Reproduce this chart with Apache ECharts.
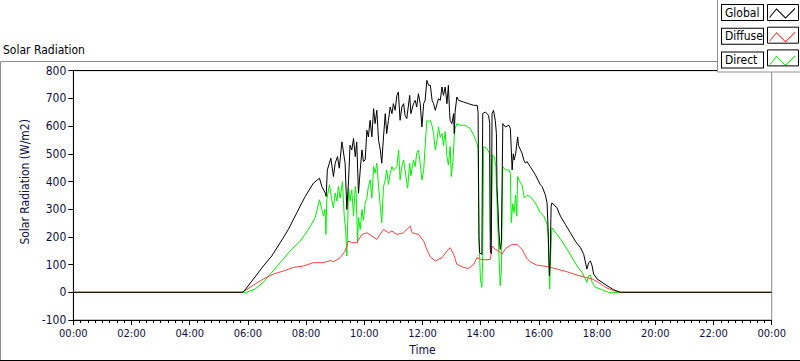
<!DOCTYPE html>
<html>
<head>
<meta charset="utf-8">
<script src="https://cdn.jsdelivr.net/npm/echarts@6/dist/echarts.min.js"></script>
<style>html,body{margin:0;padding:0;background:#fff}#c{width:800px;height:361px}</style>
</head>
<body>
<div id="c"></div>
<script>
// ---- Data (time in decimal hours, values in W/m2) ----
var seriesNames = ['Global', 'Diffuse', 'Direct'];
var xTickHours = [0, 2, 4, 6, 8, 10, 12, 14, 16, 18, 20, 22, 24];

var globalTime = [0,5.80,5.86,6.19,6.53,6.82,7.11,7.39,7.68,7.97,8.25,8.46,8.54,8.66,8.69,8.73,8.80,8.85,8.94,9.00,9.08,9.14,9.23,9.25,9.34,9.40,9.46,9.51,9.57,9.63,9.69,9.74,9.80,9.86,9.92,9.97,10.03,10.09,10.14,10.20,10.26,10.32,10.37,10.43,10.49,10.55,10.60,10.66,10.72,10.77,10.83,10.89,10.95,11.00,11.06,11.12,11.17,11.23,11.29,11.35,11.40,11.46,11.56,11.60,11.69,11.75,11.80,11.86,11.92,11.98,12.04,12.09,12.15,12.21,12.27,12.33,12.38,12.44,12.50,12.55,12.61,12.67,12.72,12.78,12.84,12.89,12.93,12.95,13.01,13.07,13.09,13.12,13.18,13.24,13.41,13.58,13.76,13.88,13.91,13.94,13.96,14.04,14.07,14.16,14.27,14.31,14.33,14.36,14.39,14.44,14.50,14.54,14.56,14.60,14.62,14.67,14.71,14.76,14.85,14.97,15.02,15.08,15.12,15.15,15.20,15.27,15.30,15.37,15.42,15.48,15.54,15.59,15.70,15.88,16.05,16.11,16.22,16.28,16.32,16.34,16.36,16.39,16.42,16.45,16.62,16.74,16.91,17.08,17.25,17.43,17.54,17.65,17.71,17.77,17.83,17.88,18.00,18.17,18.34,18.57,18.80,24];
var globalValues = [0,0,3,48,95,131,179,227,287,346,394,412,382,358,346,442,466,484,418,466,490,448,543,530,466,299,406,531,514,555,490,543,358,442,514,472,478,585,561,621,561,663,609,657,549,514,466,561,645,573,621,669,645,681,657,711,723,621,669,681,639,627,711,645,681,693,669,717,681,597,681,693,765,747,747,693,681,657,681,699,693,741,711,741,681,747,650,621,609,645,573,650,705,693,687,681,675,675,650,203,143,137,645,651,639,609,155,140,645,657,621,573,382,290,227,155,180,609,597,603,591,442,500,478,500,561,530,514,502,478,466,472,454,424,388,382,352,323,220,131,60,131,310,323,305,275,245,215,185,161,137,84,107,113,95,66,48,36,24,9,0,0];

var diffuseTime = [0,5.80,5.90,6.25,6.53,6.88,7.22,7.57,7.91,8.25,8.60,8.83,8.94,9.17,9.34,9.46,9.57,9.74,9.92,10.09,10.26,10.43,10.66,10.83,10.95,11.12,11.35,11.58,11.64,11.86,12.04,12.15,12.27,12.44,12.67,12.84,12.95,13.07,13.18,13.41,13.58,13.76,13.87,13.99,14.16,14.33,14.39,14.50,14.62,14.73,14.85,15.08,15.25,15.42,15.59,15.70,15.93,16.28,16.39,16.62,16.97,17.31,17.60,17.83,18.05,18.28,18.57,18.80,24];
var diffuseValues = [0,0,6,30,48,66,77,90,95,107,107,115,110,125,149,185,179,179,209,215,203,191,227,215,221,209,215,239,215,209,185,155,128,113,125,149,161,137,101,90,86,101,125,119,117,119,167,155,149,137,158,173,173,155,122,110,98,93,90,84,74,62,54,48,36,18,6,0,0];

var directTime = [0,5.96,6.25,6.53,6.82,7.11,7.45,7.80,8.08,8.31,8.46,8.54,8.60,8.65,8.68,8.71,8.80,8.83,8.88,8.94,9.00,9.06,9.11,9.17,9.25,9.31,9.36,9.40,9.43,9.46,9.51,9.57,9.63,9.69,9.72,9.77,9.80,9.86,9.92,9.97,10.03,10.09,10.14,10.20,10.26,10.32,10.37,10.43,10.49,10.55,10.60,10.66,10.72,10.77,10.83,10.89,10.95,11.00,11.12,11.18,11.23,11.29,11.35,11.40,11.49,11.56,11.60,11.69,11.75,11.80,11.86,11.92,11.98,12.04,12.09,12.15,12.21,12.27,12.33,12.38,12.44,12.50,12.55,12.61,12.67,12.72,12.78,12.84,12.89,12.95,12.99,13.05,13.09,13.12,13.18,13.30,13.47,13.64,13.76,13.87,13.91,13.94,13.99,14.04,14.07,14.10,14.21,14.30,14.33,14.36,14.40,14.47,14.52,14.56,14.62,14.67,14.71,14.76,14.85,14.97,15.02,15.05,15.10,15.15,15.20,15.24,15.27,15.34,15.42,15.50,15.59,15.70,15.88,16.05,16.17,16.28,16.32,16.37,16.41,16.45,16.62,16.79,16.97,17.14,17.31,17.48,17.60,17.65,17.71,17.77,17.83,17.94,18.11,18.34,18.40,24];
var directValues = [0,0,12,36,72,107,149,185,227,269,334,299,275,300,209,334,388,370,334,305,358,330,382,340,400,275,227,131,250,376,330,370,275,382,360,179,270,227,299,260,323,340,382,406,340,454,430,466,382,310,251,382,406,442,390,430,454,440,454,514,406,454,478,440,376,466,420,478,454,502,514,466,406,440,526,621,615,621,600,573,514,550,597,560,573,530,580,490,460,526,418,480,561,590,609,603,603,591,567,538,520,203,48,18,130,526,520,502,239,190,496,490,454,320,150,24,80,454,442,442,430,251,320,287,350,275,418,400,388,340,350,346,323,287,275,245,200,12,150,233,209,185,155,125,95,72,48,36,60,62,36,18,12,2,0,0];

// ---- Styling ----
var FONT = '"DejaVu Sans Condensed", "DejaVu Sans", sans-serif';
var LABEL_COLOR = '#101040';
var colors = {Global: '#000000', Diffuse: '#ff4040', Direct: '#00f000'};

function pairs(t, v) { return t.map(function (x, i) { return [x, v[i]]; }); }
function hhmm(h) { var hh = h % 24; return (hh < 10 ? '0' : '') + hh + ':00'; }

var zigzag = 'path://M0,0 M31,16 M1.5,12.3 L8.5,3.8 L17.5,12.8 L27,3.3 L27,4.7 L17.5,14.2 L8.5,5.2 L1.5,13.7 Z';

var chart = echarts.init(document.getElementById('c'), null, {renderer: 'svg'});
chart.setOption({
  animation: false,
  backgroundColor: '#ffffff',
  title: {
    text: 'Solar Radiation', left: 3, top: 44, padding: 0,
    textStyle: {fontFamily: FONT, fontSize: 12, fontWeight: 'normal', color: '#000'}
  },
  legend: {
    z: 200,
    orient: 'vertical', left: 721, top: 4, padding: 0,
    itemWidth: 31, itemHeight: 16, itemGap: 6.7, align: 'right',
    icon: zigzag,
    itemStyle: {borderWidth: 0},
    selectedMode: false,
    formatter: function (n) { return '{b|' + n + '}'; },
    textStyle: {
      fontFamily: FONT, fontSize: 12, color: '#000',
      rich: {b: {fontFamily: FONT, fontSize: 12, color: '#000', width: 36, height: 15, lineHeight: 15,
                 padding: [0, 2, 0, 3], borderColor: '#000', borderWidth: 1, align: 'left', backgroundColor: '#fff'}}
    },
    data: seriesNames
  },
  grid: {left: 73.3, right: 28.3, top: 70.7, bottom: 39.3, show: true, borderColor: '#8c8c8c', borderWidth: 1, backgroundColor: '#fff'},
  xAxis: [{
    type: 'value', min: xTickHours[0], max: xTickHours[xTickHours.length - 1], interval: 2,
    name: 'Time', nameLocation: 'middle', nameGap: 24,
    nameTextStyle: {fontFamily: FONT, fontSize: 12, color: LABEL_COLOR},
    axisLine: {show: true, onZero: false, lineStyle: {color: '#000', width: 1}},
    axisTick: {show: true, length: 5, lineStyle: {color: '#000'}},
    minorTick: {show: true, splitNumber: 8, length: 3, lineStyle: {color: '#000'}},
    splitLine: {show: false},
    axisLabel: {fontFamily: FONT, fontSize: 11, color: LABEL_COLOR, margin: 8, formatter: hhmm}
  }, {
    type: 'value', position: 'top', min: 0, max: 24,
    axisLine: {show: true, onZero: false, lineStyle: {color: '#000', width: 1}},
    axisTick: {show: false}, axisLabel: {show: false}, splitLine: {show: false}
  }],
  yAxis: {
    type: 'value', min: -100, max: 800, interval: 100,
    name: 'Solar Radiation (W/m2)', nameLocation: 'middle', nameGap: 34,
    nameTextStyle: {fontFamily: FONT, fontSize: 12, color: LABEL_COLOR, padding: [0, 0, 0, 27]},
    axisLine: {show: true, onZero: false, lineStyle: {color: '#000', width: 1}},
    axisTick: {show: true, length: 5, lineStyle: {color: '#000'}},
    splitLine: {show: false},
    axisLabel: {fontFamily: FONT, fontSize: 12, color: LABEL_COLOR, margin: 7}
  },
  graphic: [
    {type: 'polyline', z: 50, shape: {points: [[0.5, 361], [0.5, 61.5], [717, 61.5]]}, style: {stroke: '#8c8c8c', fill: null, lineWidth: 1}},
    {type: 'line', z: 50, shape: {x1: 0, y1: 360.5, x2: 800, y2: 360.5}, style: {stroke: '#000', lineWidth: 1}},
    {type: 'rect', z: 100, shape: {x: 717.5, y: -2, width: 90, height: 74}, style: {fill: '#fff', stroke: '#909090', lineWidth: 1}},
    {type: 'rect', z: 300, shape: {x: 767.5, y: 4.5, width: 31, height: 16}, style: {fill: null, stroke: '#000', lineWidth: 1}},
    {type: 'rect', z: 300, shape: {x: 767.5, y: 27.2, width: 31, height: 16}, style: {fill: null, stroke: '#000', lineWidth: 1}},
    {type: 'rect', z: 300, shape: {x: 767.5, y: 49.9, width: 31, height: 16}, style: {fill: null, stroke: '#000', lineWidth: 1}}
  ],
  series: [
    {name: 'Global', type: 'line', z: 4, showSymbol: false, symbol: 'none', color: colors.Global,
     lineStyle: {width: 1, color: colors.Global}, data: pairs(globalTime, globalValues)},
    {name: 'Diffuse', type: 'line', z: 3, showSymbol: false, symbol: 'none', color: colors.Diffuse,
     lineStyle: {width: 1, color: colors.Diffuse}, data: pairs(diffuseTime, diffuseValues)},
    {name: 'Direct', type: 'line', z: 2, showSymbol: false, symbol: 'none', color: colors.Direct,
     lineStyle: {width: 1, color: colors.Direct}, data: pairs(directTime, directValues)}
  ]
});
</script>
</body>
</html>
